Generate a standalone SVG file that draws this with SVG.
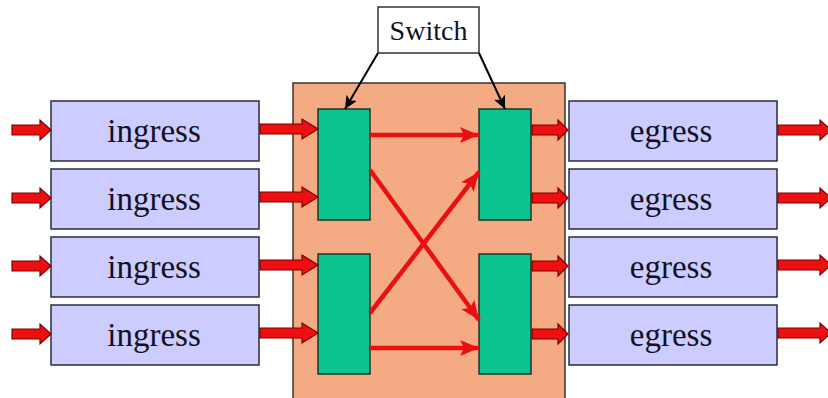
<svg xmlns="http://www.w3.org/2000/svg" width="828" height="398" viewBox="0 0 828 398">
  <defs>
    <style>
      .port { fill: #CCCCFF; stroke: #2b2b3a; stroke-width: 1.5; }
      .fabric { fill: #F4AA82; stroke: #333333; stroke-width: 1.5; }
      .xbar { fill: #0DC491; stroke: #1d3328; stroke-width: 1.5; }
      .label { fill: #ffffff; stroke: #333333; stroke-width: 1.5; }
      .txt { font-family: 'Liberation Serif', 'DejaVu Serif', 'Times New Roman', serif; fill: #111122; text-anchor: middle; }
      .blk { fill: #EE1010; stroke: #7A0000; stroke-width: 1.2; stroke-linejoin: miter; }
      .red { stroke: #E81010; stroke-width: 4.5; fill: none; }
      .ptr { stroke: #000000; stroke-width: 2; fill: none; }
    </style>
    <marker id="redHead" markerUnits="userSpaceOnUse" markerWidth="20" markerHeight="18" viewBox="0 0 20 18" refX="19" refY="9" orient="auto">
      <path d="M0,1 L19,9 L0,17 L4,9 Z" fill="#E81010"/>
    </marker>
    <marker id="blackHead" markerUnits="userSpaceOnUse" markerWidth="14" markerHeight="12" viewBox="0 0 14 12" refX="13" refY="6" orient="auto">
      <path d="M0,0 L13,6 L0,12 L3,6 Z" fill="#000000"/>
    </marker>
  </defs>

  <rect width="828" height="398" fill="#ffffff"/>

  <g id="switch-fabric">
    <rect class="fabric" x="293" y="83" width="272" height="320"/>
  </g>

  <g id="switch-label">
    <rect class="label" x="378" y="7" width="101" height="46"/>
    <text class="txt" x="428.5" y="40" font-size="28" font-family="Liberation Serif, DejaVu Serif, serif">Switch</text>
  </g>

  <g id="ingress-1"><rect class="port" x="51" y="101" width="208" height="60"/><text class="txt" x="154" y="142" font-size="33" font-family="Liberation Serif, DejaVu Serif, serif">ingress</text></g>
  <g id="ingress-2"><rect class="port" x="51" y="169" width="208" height="60"/><text class="txt" x="154" y="210" font-size="33" font-family="Liberation Serif, DejaVu Serif, serif">ingress</text></g>
  <g id="ingress-3"><rect class="port" x="51" y="237" width="208" height="60"/><text class="txt" x="154" y="278" font-size="33" font-family="Liberation Serif, DejaVu Serif, serif">ingress</text></g>
  <g id="ingress-4"><rect class="port" x="51" y="305" width="208" height="60"/><text class="txt" x="154" y="346" font-size="33" font-family="Liberation Serif, DejaVu Serif, serif">ingress</text></g>

  <g id="egress-1"><rect class="port" x="569" y="101" width="208" height="60"/><text class="txt" x="671" y="142" font-size="33" font-family="Liberation Serif, DejaVu Serif, serif">egress</text></g>
  <g id="egress-2"><rect class="port" x="569" y="169" width="208" height="60"/><text class="txt" x="671" y="210" font-size="33" font-family="Liberation Serif, DejaVu Serif, serif">egress</text></g>
  <g id="egress-3"><rect class="port" x="569" y="237" width="208" height="60"/><text class="txt" x="671" y="278" font-size="33" font-family="Liberation Serif, DejaVu Serif, serif">egress</text></g>
  <g id="egress-4"><rect class="port" x="569" y="305" width="208" height="60"/><text class="txt" x="671" y="346" font-size="33" font-family="Liberation Serif, DejaVu Serif, serif">egress</text></g>

  <g id="xbar-in-top"><rect class="xbar" x="318" y="109" width="52" height="111"/></g>
  <g id="xbar-in-bottom"><rect class="xbar" x="318" y="254" width="52" height="120"/></g>
  <g id="xbar-out-top"><rect class="xbar" x="479" y="109" width="52" height="111"/></g>
  <g id="xbar-out-bottom"><rect class="xbar" x="479" y="254" width="52" height="120"/></g>

  <g id="connectors">
    <polygon class="blk" points="12,125 40,125 40,120 51,130 40,140 40,135 12,135"/>
    <polygon class="blk" points="12,193 40,193 40,188 51,198 40,208 40,203 12,203"/>
    <polygon class="blk" points="12,261 40,261 40,256 51,266 40,276 40,271 12,271"/>
    <polygon class="blk" points="12,329 40,329 40,324 51,334 40,344 40,339 12,339"/>
    <polygon class="blk" points="260,124 302,124 302,119 318,129 302,139 302,134 260,134"/>
    <polygon class="blk" points="260,192 302,192 302,187 318,197 302,207 302,202 260,202"/>
    <polygon class="blk" points="260,260 302,260 302,255 318,265 302,275 302,270 260,270"/>
    <polygon class="blk" points="260,328 302,328 302,323 318,333 302,343 302,338 260,338"/>
    <polygon class="blk" points="532,125 558,125 558,120 568,130 558,140 558,135 532,135"/>
    <polygon class="blk" points="532,193 558,193 558,188 568,198 558,208 558,203 532,203"/>
    <polygon class="blk" points="532,261 558,261 558,256 568,266 558,276 558,271 532,271"/>
    <polygon class="blk" points="532,329 558,329 558,324 568,334 558,344 558,339 532,339"/>
    <polygon class="blk" points="778,125 820,125 820,120 831,130 820,140 820,135 778,135"/>
    <polygon class="blk" points="778,193 820,193 820,188 831,198 820,208 820,203 778,203"/>
    <polygon class="blk" points="778,260 820,260 820,255 831,265 820,275 820,270 778,270"/>
    <polygon class="blk" points="778,328 820,328 820,323 831,333 820,343 820,338 778,338"/>
    <line class="red" x1="370" y1="135" x2="479" y2="135" marker-end="url(#redHead)"/>
    <line class="red" x1="370" y1="170" x2="479" y2="320" marker-end="url(#redHead)"/>
    <line class="red" x1="370" y1="313" x2="479" y2="172" marker-end="url(#redHead)"/>
    <line class="red" x1="370" y1="348" x2="479" y2="348" marker-end="url(#redHead)"/>
    <line class="ptr" x1="378" y1="53" x2="345" y2="109" marker-end="url(#blackHead)"/>
    <line class="ptr" x1="479" y1="53" x2="505" y2="109" marker-end="url(#blackHead)" stroke-width="2.5"/>
  </g>
</svg>
